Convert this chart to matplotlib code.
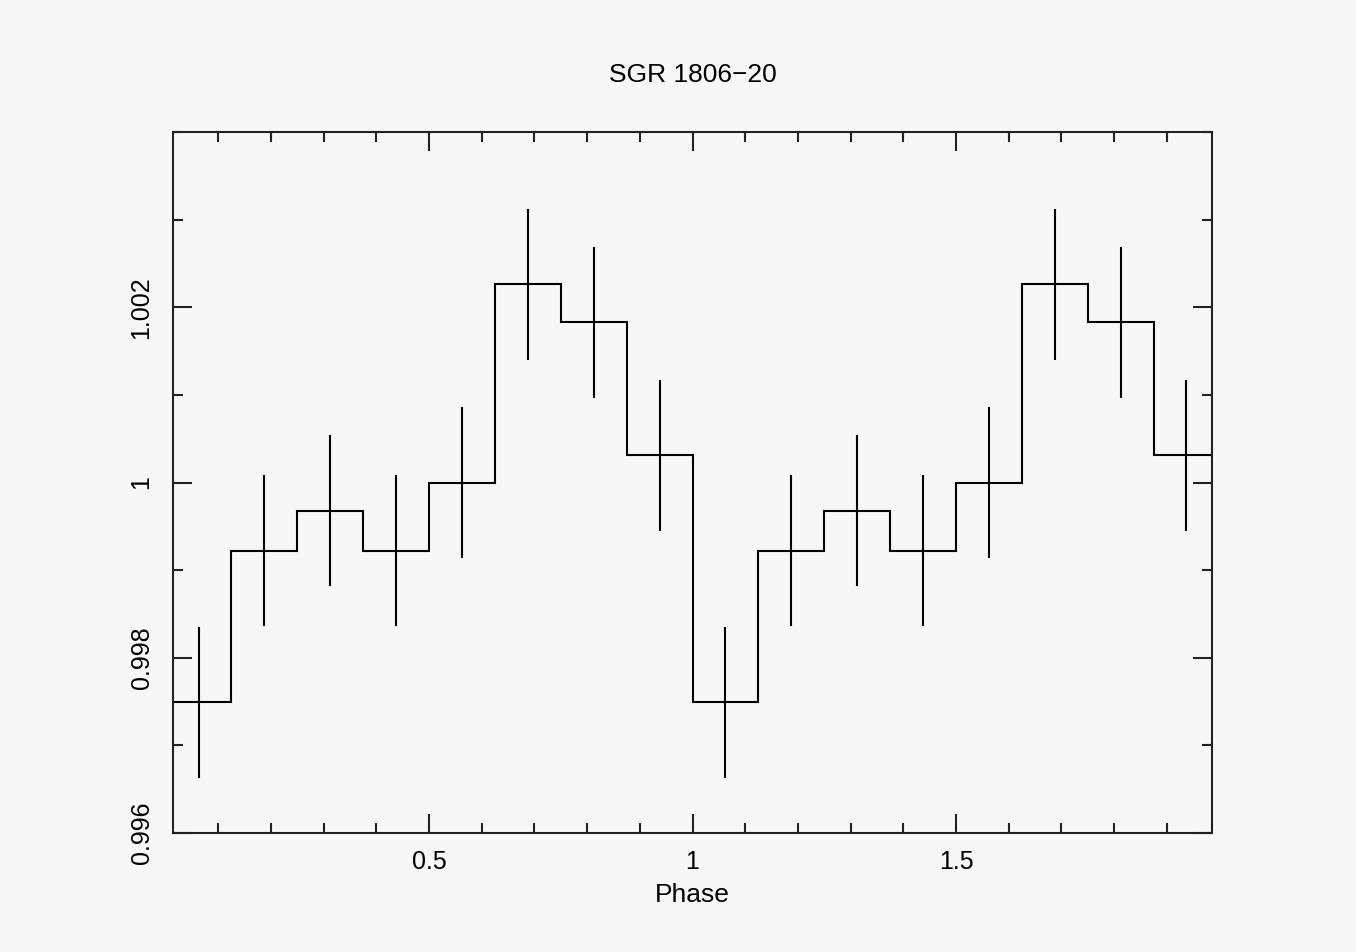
import numpy as np
import matplotlib
matplotlib.use("Agg")
import matplotlib.pyplot as plt
from matplotlib.ticker import MultipleLocator

plt.rcParams['font.family'] = ['Liberation Sans', 'DejaVu Sans']

# phase-folded light curve, two cycles shown
phase_edges = np.arange(0, 2.0001, 0.125)
rate = [0.99749, 0.99922, 0.99968, 0.99922, 1.00000, 1.00226, 1.00183, 1.00031,
        0.99749, 0.99922, 0.99968, 0.99922, 1.00000, 1.00226, 1.00183, 1.00031]
rate_err = [0.00086] * 16
phase_mid = (phase_edges[:-1] + phase_edges[1:]) / 2

bg = '#f7f7f7'
fig = plt.figure(figsize=(13.56, 9.52), dpi=100, facecolor=bg)
ax = fig.add_axes([173/1356, 1 - 833/952, (1212-173)/1356, (833-132)/952], facecolor=bg)

ax.stairs(rate, phase_edges, color='black', lw=1.5)
ax.errorbar(phase_mid, rate, yerr=rate_err, fmt='none', ecolor='black', elinewidth=1.5, capsize=0)

ax.set_xlim(0.014, 1.986)
ax.set_ylim(0.996, 1.004)

ax.xaxis.set_minor_locator(MultipleLocator(0.1))
ax.yaxis.set_minor_locator(MultipleLocator(0.001))
ax.set_xticks([0.5, 1, 1.5])
ax.set_xticklabels(['0.5', '1', '1.5'])
ax.set_yticks([0.996, 0.998, 1.0, 1.002])
ax.set_yticklabels(['0.996', '0.998', '1', '1.002'], rotation=90, va='center')

ax.tick_params(which='both', direction='in', top=True, right=True, width=1.5, labelsize=18, color='#222222')
ax.tick_params(which='major', length=14)
ax.tick_params(axis='x', which='major', pad=12)
ax.tick_params(axis='y', which='major', pad=14)
ax.tick_params(which='minor', length=7)
for s in ax.spines.values():
    s.set_linewidth(1.5)
    s.set_color('#222222')

ax.set_title('SGR 1806\u221220', fontsize=19, pad=36)
ax.set_xlabel('Phase', fontsize=19, labelpad=7)

fig.savefig('out.png', dpi=100, facecolor=bg)
